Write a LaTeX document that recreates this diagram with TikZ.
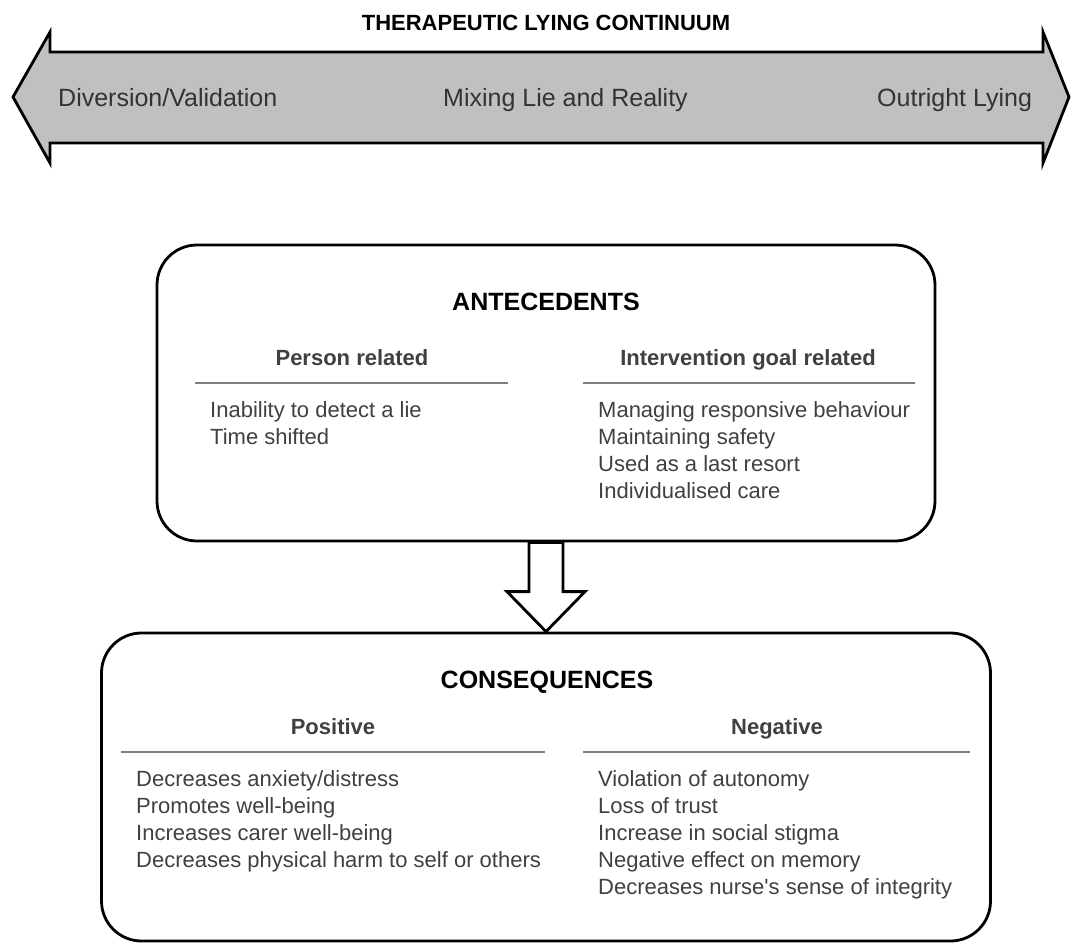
\documentclass[tikz,border=0pt]{standalone}
\usepackage{fontspec}
\setmainfont{Liberation Sans}
\usepackage{tikz}
\usetikzlibrary{calc}

\definecolor{arrowgray}{HTML}{C0C0C0}
\definecolor{textgray}{HTML}{404040}
\definecolor{rulegray}{HTML}{808080}

\begin{document}
\begin{tikzpicture}[x=1pt, y=-1pt,
        panel/.style={draw=black, line width=2.8pt, rounded corners=40pt, inner sep=0pt, fill=white},
        item/.style={anchor=base west, inner sep=0pt, text=textgray, font=\fontsize{22}{27}\selectfont},
        colhead/.style={anchor=base, inner sep=0pt, text=textgray, font=\bfseries\fontsize{22}{27}\selectfont},
        boxtitle/.style={anchor=base, inner sep=0pt, font=\bfseries\fontsize{25}{30}\selectfont},
        scalelabel/.style={anchor=base west, inner sep=0pt, text=black!80, font=\fontsize{25}{30}\selectfont},
        sepline/.style={draw=rulegray, line width=1.6pt}]
        \useasboundingbox (0,0) rectangle (1071,943);

        % continuum arrow
        \node[anchor=base, inner sep=0pt, font=\bfseries\fontsize{22}{26}\selectfont] (scaletitle) at (546,30) {THERAPEUTIC LYING CONTINUUM};
        \draw[fill=arrowgray, line width=2.8pt, line join=miter]
            (13,97) -- (50,32) -- (50,52) -- (1043,52) -- (1043,32) -- (1069,97)
            -- (1043,163) -- (1043,143) -- (50,143) -- (50,163) -- cycle;
        \node[scalelabel] (diversion) at (58,106) {Diversion/Validation};
        \node[scalelabel] (mixing) at (443,106) {Mixing Lie and Reality};
        \node[scalelabel] (outright) at (877,106) {Outright Lying};

        % boxes
        \node[panel, minimum width=778, minimum height=296] (ante) at (546,393) {};
        \node[panel, minimum width=889, minimum height=308] (cons) at (546,787) {};

        % block arrow between the boxes
        \draw[fill=white, line width=2.8pt, line join=miter]
            ($(ante.south)+(-17,0)$) -- ($(ante.south)+(17,0)$)
            -- ($(cons.north)+(17,-40)$) -- ($(cons.north)+(39,-40)$)
            -- (cons.north)
            -- ($(cons.north)+(-39,-40)$) -- ($(cons.north)+(-17,-40)$) -- cycle;

        % antecedents
        \node[boxtitle] (antetitle) at (546,310) {ANTECEDENTS};
        \node[colhead] (person) at (352,365) {Person related};
        \node[colhead] (goal) at (748,365) {Intervention goal related};
        \draw[sepline] (195,383) -- (508,383);
        \draw[sepline] (583,383) -- (915,383);

        \node[item] (p1) at (210,417) {Inability to detect a lie};
        \node[item] (p2) at (210,444) {Time shifted};

        \node[item] (g1) at (598,417) {Managing responsive behaviour};
        \node[item] (g2) at (598,444) {Maintaining safety};
        \node[item] (g3) at (598,471) {Used as a last resort};
        \node[item] (g4) at (598,498) {Individualised care};

        % consequences
        \node[boxtitle] (constitle) at (547,688) {CONSEQUENCES};
        \node[colhead] (positive) at (333,734) {Positive};
        \node[colhead] (negative) at (777,734) {Negative};
        \draw[sepline] (121,752) -- (545,752);
        \draw[sepline] (583,752) -- (970,752);

        \node[item] (pos1) at (136,786) {Decreases anxiety/distress};
        \node[item] (pos2) at (136,813) {Promotes well-being};
        \node[item] (pos3) at (136,840) {Increases carer well-being};
        \node[item] (pos4) at (136,867) {Decreases physical harm to self or others};

        \node[item] (neg1) at (598,786) {Violation of autonomy};
        \node[item] (neg2) at (598,813) {Loss of trust};
        \node[item] (neg3) at (598,840) {Increase in social stigma};
        \node[item] (neg4) at (598,867) {Negative effect on memory};
        \node[item] (neg5) at (598,894) {Decreases nurse\textquotesingle s sense of integrity};
    \end{tikzpicture}
\end{document}
